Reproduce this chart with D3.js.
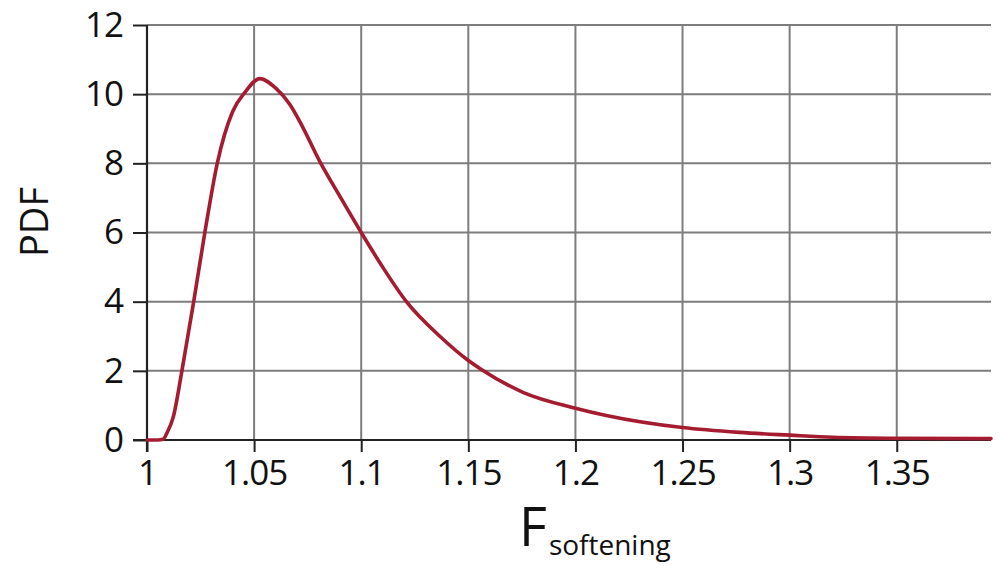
<!DOCTYPE html>
<html>
<head>
<meta charset="utf-8">
<script src="https://cdn.jsdelivr.net/npm/d3@7"></script>
<style>
  html, body { margin: 0; padding: 0; background: #fff; }
  svg { display: block; }
  text { font-family: "Open Sans", "Noto Sans", sans-serif; fill: #111; }
</style>
</head>
<body>
<svg id="chart" width="1001" height="566"></svg>
<script>
// Probability density of the softening factor
const fValues   = [1.0, 1.005, 1.0075, 1.0092, 1.0123, 1.0163, 1.0218, 1.027, 1.0328,
                   1.04, 1.0457, 1.0527, 1.06, 1.0667, 1.0714, 1.0807, 1.09, 1.1, 1.11,
                   1.1211, 1.1367, 1.15, 1.1561, 1.1755, 1.2, 1.2144, 1.25, 1.2766, 1.3,
                   1.32, 1.35, 1.394];
const pdfValues = [0, 0, 0.02, 0.19, 0.67, 2.0, 4.0, 6.0, 8.0,
                   9.5, 10.05, 10.45, 10.18, 9.7, 9.2, 8.05, 7.05, 6.0, 5.0,
                   4.0, 3.0, 2.3, 2.04, 1.38, 0.92, 0.71, 0.36, 0.22, 0.14,
                   0.08, 0.05, 0.04];

const xTicks      = [1, 1.05, 1.1, 1.15, 1.2, 1.25, 1.3, 1.35];
const xTickLabels = ["1", "1.05", "1.1", "1.15", "1.2", "1.25", "1.3", "1.35"];
const yTicks      = [0, 2, 4, 6, 8, 10, 12];
const yTickLabels = ["0", "2", "4", "6", "8", "10", "12"];

const svg = d3.select("#chart");
const plotLeft = 147, plotRight = 991, plotTop = 25, plotBottom = 440;

const x = d3.scaleLinear().domain([1, 1.394]).range([plotLeft, plotRight]);
const y = d3.scaleLinear().domain([0, 12]).range([plotBottom, plotTop]);

// grid
const grid = svg.append("g").attr("stroke", "#7d7d7d").attr("stroke-width", 2);
grid.selectAll("line.v").data(xTicks.filter(d => d > 1)).join("line")
  .attr("class", "v")
  .attr("x1", d => x(d)).attr("x2", d => x(d))
  .attr("y1", y(12)).attr("y2", y(0));
grid.selectAll("line.h").data(yTicks.filter(d => d > 0)).join("line")
  .attr("class", "h")
  .attr("x1", x(1)).attr("x2", plotRight)
  .attr("y1", d => y(d)).attr("y2", d => y(d));

// axes
const xAxis = d3.axisBottom(x).tickValues(xTicks)
  .tickFormat((d, i) => xTickLabels[i]).tickSize(12).tickPadding(8);
const gx = svg.append("g").attr("transform", `translate(0,${plotBottom})`).call(xAxis);
gx.select(".domain").remove();
gx.selectAll(".tick line").attr("stroke", "#222").attr("stroke-width", 2);
gx.selectAll(".tick text").attr("font-size", 35).attr("letter-spacing", -1)
  .attr("font-family", '"Open Sans", sans-serif').attr("fill", "#111");

const yAxis = d3.axisLeft(y).tickValues(yTicks)
  .tickFormat((d, i) => yTickLabels[i]).tickSize(14).tickPadding(10);
const gy = svg.append("g").attr("transform", `translate(${plotLeft},0)`).call(yAxis);
gy.select(".domain").remove();
gy.selectAll(".tick line").attr("stroke", "#222").attr("stroke-width", 2);
gy.selectAll(".tick text").attr("font-size", 35).attr("letter-spacing", -1)
  .attr("font-family", '"Open Sans", sans-serif').attr("fill", "#111");

// axis lines
svg.append("line").attr("x1", plotLeft - 14).attr("x2", plotRight)
  .attr("y1", plotBottom).attr("y2", plotBottom)
  .attr("stroke", "#222").attr("stroke-width", 2.2);
svg.append("line").attr("x1", plotLeft).attr("x2", plotLeft)
  .attr("y1", plotTop).attr("y2", plotBottom + 12)
  .attr("stroke", "#222").attr("stroke-width", 2.2);

// density curve
const line = d3.line()
  .x((d, i) => x(fValues[i]))
  .y(d => y(d))
  .curve(d3.curveMonotoneX);
svg.append("path").datum(pdfValues)
  .attr("d", line)
  .attr("fill", "none")
  .attr("stroke", "#a51c30")
  .attr("stroke-width", 3.6)
  .attr("stroke-linejoin", "round")
  .attr("stroke-linecap", "round");

// axis titles
svg.append("text")
  .attr("transform", "translate(48,222) rotate(-90)")
  .attr("text-anchor", "middle")
  .attr("font-size", 38)
  .text("PDF");

const xt = svg.append("text").attr("x", 519).attr("y", 546);
xt.append("tspan").attr("font-size", 54).text("F");
xt.append("tspan").attr("font-size", 28).attr("dx", 2).attr("dy", 9).text("softening");
</script>
</body>
</html>
